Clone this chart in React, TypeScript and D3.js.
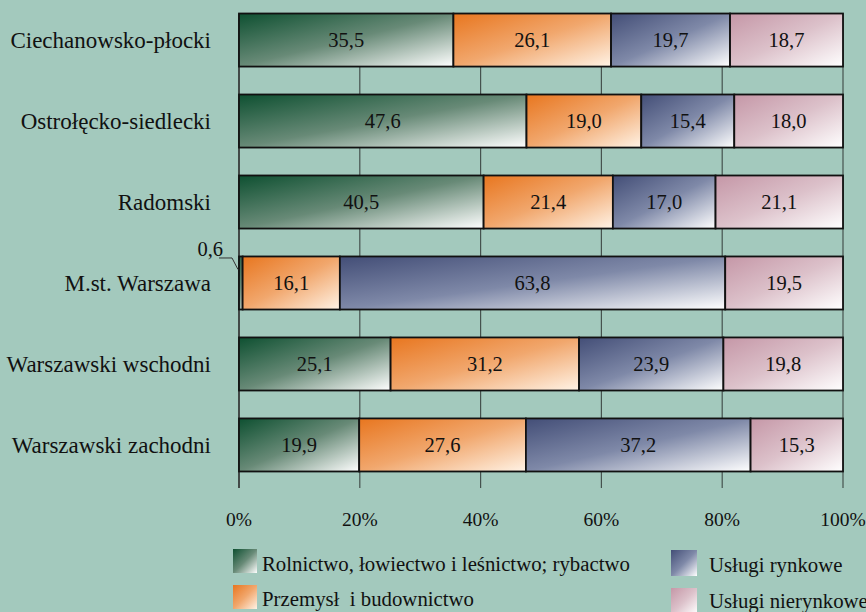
import * as d3 from 'd3';

const categories = [
  'Ciechanowsko-płocki',
  'Ostrołęcko-siedlecki',
  'Radomski',
  'M.st. Warszawa',
  'Warszawski wschodni',
  'Warszawski zachodni',
];
const seriesNames = [
  'Rolnictwo, łowiectwo i leśnictwo; rybactwo',
  'Przemysł  i budownictwo',
  'Usługi rynkowe',
  'Usługi nierynkowe',
];
const rolnictwo = [35.5, 47.6, 40.5, 0.6, 25.1, 19.9];
const przemysl = [26.1, 19.0, 21.4, 16.1, 31.2, 27.6];
const rynkowe = [19.7, 15.4, 17.0, 63.8, 23.9, 37.2];
const nierynkowe = [18.7, 18.0, 21.1, 19.5, 19.8, 15.3];
const tickValues = [0, 20, 40, 60, 80, 100];

const gradients = [
  { id: 'g0', from: '#0e5031', mid: '#688a77', to: '#ffffff' },
  { id: 'g1', from: '#e8761f', mid: '#f1a76d', to: '#fff3e6' },
  { id: 'g2', from: '#434e77', mid: '#7f89a8', to: '#ffffff' },
  { id: 'g3', from: '#c597a7', mid: '#dcc1ca', to: '#ffffff' },
];

const W = 866;
const H = 612;
const font = '"Liberation Serif", "Times New Roman", serif';

export default function App() {
  const x = d3.scaleLinear().domain([0, 100]).range([239, 843]);
  const y = d3.scaleBand<string>().domain(categories).range([0, 485]).paddingInner(0.345).paddingOuter(0.167);

  const table = categories.map((c, i) => ({
    cat: c,
    v: [rolnictwo[i], przemysl[i], rynkowe[i], nierynkowe[i]],
  }));
  const stacked = d3.stack<any>().keys([0, 1, 2, 3] as any).value((d, k) => d.v[k as any])(table);

  const fmt = (v: number) => v.toFixed(1).replace('.', ',');
  const gridTop = y(categories[0])!;
  const gridBottom = 488;

  // legend boxes: [swatch x, swatch y, swatch size, text x, baseline]
  const legendPos = [
    [233, 549, 24, 262, 571],
    [233, 585, 24, 262, 606],
    [671, 550, 26, 709, 572],
    [671, 588, 26, 709, 608],
  ];

  return (
    <svg width={W} height={H} style={{ position: 'absolute', left: 0, top: 0 }} fontFamily={font}>
      <defs>
        {gradients.map((g) => (
          <linearGradient key={g.id} id={g.id} x1="0" y1="0" x2="1" y2="1">
            <stop offset="0" stopColor={g.from} />
            <stop offset="0.5" stopColor={g.mid} />
            <stop offset="1" stopColor={g.to} />
          </linearGradient>
        ))}
      </defs>
      <rect width={W} height={H} fill="#a3c9bd" />

      {/* gridlines */}
      {tickValues.map((t) => (
        <line key={t} x1={x(t)} x2={x(t)} y1={gridTop} y2={gridBottom} stroke="#45524e" strokeWidth={1.2} />
      ))}
      <line x1={x(0)} x2={x(0)} y1={gridTop} y2={gridBottom} stroke="#333" strokeWidth={1.4} />

      {/* bars */}
      {stacked.map((s, si) =>
        s.map((d, i) => {
          const x0 = x(d[0]);
          const x1 = x(d[1]);
          const yy = y(categories[i])!;
          const val = d[1] - d[0];
          return (
            <g key={`${si}-${i}`}>
              <rect x={x0} y={yy} width={x1 - x0} height={y.bandwidth()} fill={`url(#${gradients[si].id})`} stroke="#111" strokeWidth={1.8} />
              {val >= 5 && (
                <text x={(x0 + x1) / 2} y={yy + y.bandwidth() / 2} dy="0.35em" textAnchor="middle" fontSize={20.5} fill="#111">
                  {fmt(val)}
                </text>
              )}
            </g>
          );
        })
      )}

      {/* small value callout */}
      {stacked[0].map((d, i) => {
        const val = d[1] - d[0];
        if (val >= 5) return null;
        const yy = y(categories[i])!;
        return (
          <g key={`c${i}`}>
            <polyline points={`${x(0) - 20},${yy + 1.5} ${x(0) - 7},${yy + 1.5} ${x(0) - 1},${yy + 13}`} fill="none" stroke="#333" strokeWidth={1} />
            <text x={x(0) - 16} y={yy - 8} dy="0.35em" textAnchor="end" fontSize={20.5} fill="#111">
              {fmt(val)}
            </text>
          </g>
        );
      })}

      {/* category labels */}
      {categories.map((c) => (
        <text key={c} x={211} y={y(c)! + y.bandwidth() / 2} dy="0.35em" textAnchor="end" fontSize={23} fill="#111">
          {c}
        </text>
      ))}

      {/* tick labels */}
      {tickValues.map((t) => (
        <text key={t} x={x(t)} y={519} dy="0.35em" textAnchor="middle" fontSize={19.5} fill="#111">
          {t}%
        </text>
      ))}

      {/* legend */}
      {seriesNames.map((n, i) => {
        const [sx, sy, sz, tx, ty] = legendPos[i];
        return (
          <g key={n}>
            <rect x={sx} y={sy} width={sz} height={sz} fill={`url(#${gradients[i].id})`} />
            <text x={tx} y={ty} fontSize={20.8} fill="#111" style={{ whiteSpace: 'pre' }}>
              {n}
            </text>
          </g>
        );
      })}
    </svg>
  );
}
